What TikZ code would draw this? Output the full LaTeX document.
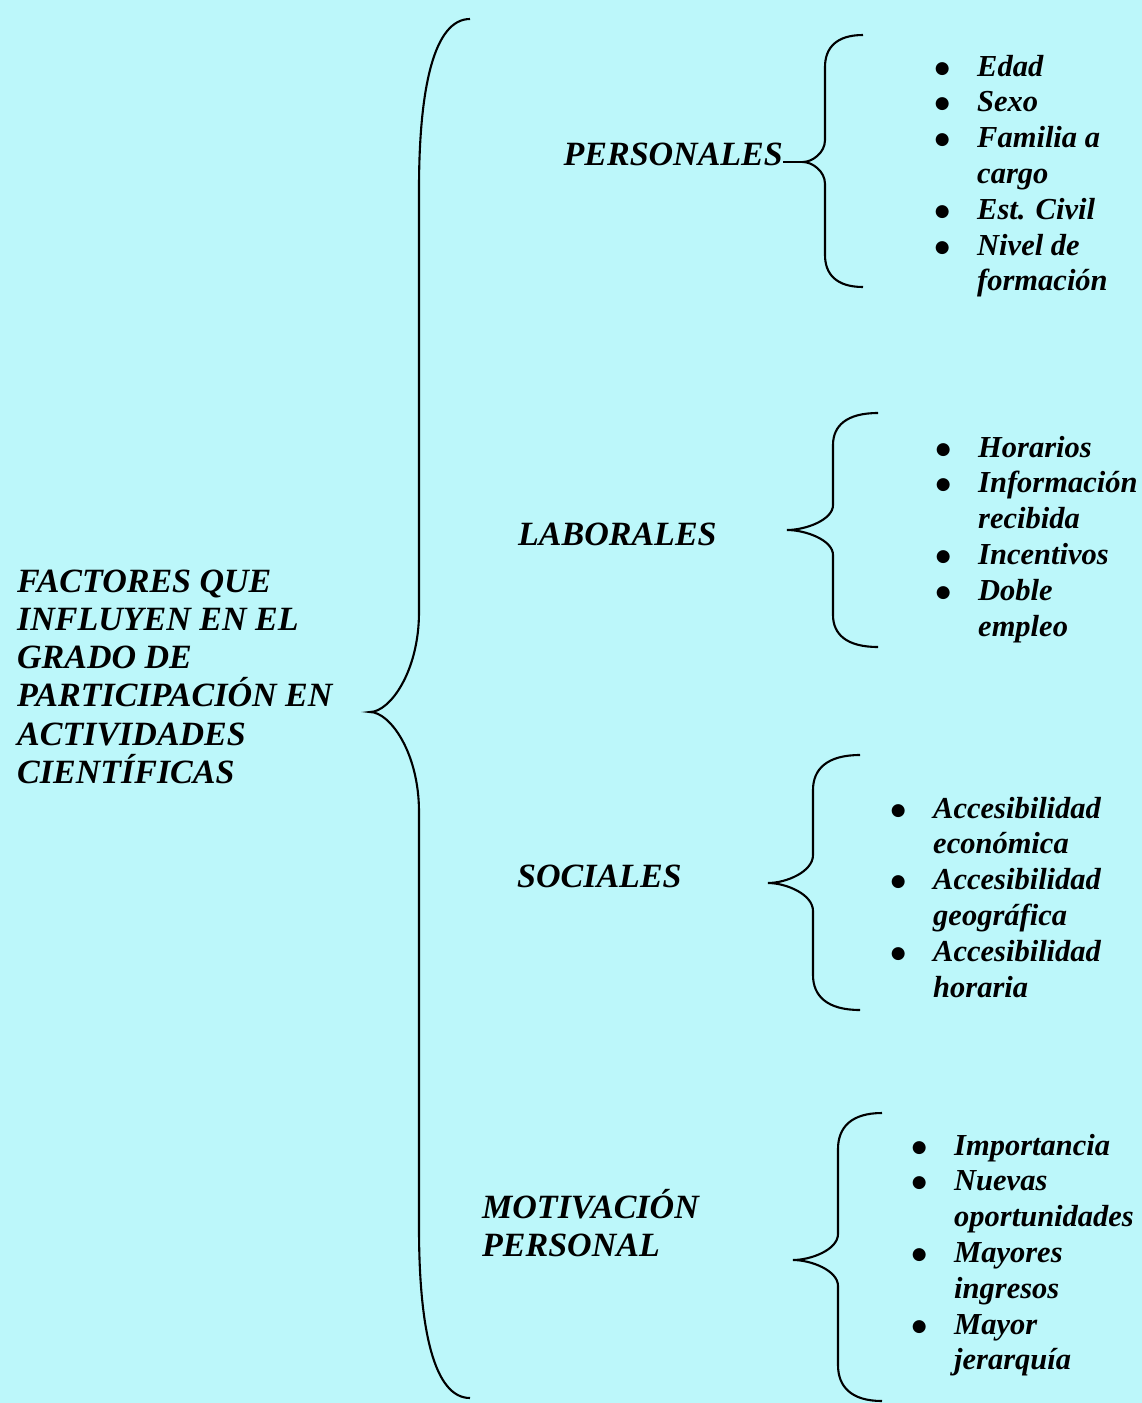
\documentclass[tikz,border=0pt]{standalone}
\usepackage{fontspec}
\setmainfont{Liberation Serif}
\newfontfamily\dotfont{DejaVu Sans}
\definecolor{paper}{RGB}{188,247,250}
\tikzstyle{factor} = [inner sep=0pt, font=\fontsize{34}{38.3}\selectfont\bfseries\itshape]
\tikzstyle{itemlist} = [inner sep=0pt, font=\fontsize{30.5}{35.8}\selectfont\bfseries\itshape]
\tikzstyle{brace} = [draw, line width=2.1pt]

\newcommand{\bul}{\makebox[0pt]{\raisebox{3pt}{\dotfont\fontsize{17}{17}\selectfont ●}}\hspace{35pt}}
\newcommand{\nobul}{\hspace{35pt}}
% end x, spine x, tip x, top y, tip y, bottom y, hook, nose
\newcommand{\curly}[8]{%
  \draw[brace] (#1,#4) .. controls ({#2+0.3*(#1-#2)},#4) and (#2,{#4+0.4*#7}) .. (#2,{#4+#7})
    -- (#2,{#5-#8}) .. controls (#2,{#5-0.4*#8}) and ({#3+0.4*(#2-#3)},#5) .. (#3,#5)
    .. controls ({#3+0.4*(#2-#3)},#5) and (#2,{#5+0.4*#8}) .. (#2,{#5+#8})
    -- (#2,{#6-#7}) .. controls (#2,{#6-0.4*#7}) and ({#2+0.3*(#1-#2)},#6) .. (#1,#6);}

\begin{document}
\begin{tikzpicture}[x=1pt,y=-1pt]

   \useasboundingbox (0,0) rectangle (1142,1403);
   \fill[paper] (0,0) rectangle (1142,1403);

   \node[factor, anchor=base west] (factores) at (17,592) {\begin{tabular}[t]{@{}l@{}}FACTORES QUE\\ INFLUYEN EN EL\\ GRADO DE\\ \smash{PARTICIPACIÓN EN}\\ ACTIVIDADES\\ \smash{CIENTÍFICAS}\end{tabular}};

   \node[factor, anchor=base east] (personales) at (783,165) {PERSONALES};
   \node[factor, anchor=base west] (laborales) at (518,545) {LABORALES};
   \node[factor, anchor=base west] (sociales) at (517,887) {SOCIALES};
   \node[factor, anchor=base west] (motivacion) at (482,1218) {\begin{tabular}[t]{@{}l@{}}MOTIVACIÓN\\ PERSONAL\end{tabular}};

   % Lists of each factor
   \node[itemlist, anchor=base west] (persItems) at (942,76) {\begin{tabular}[t]{@{}l@{}}\bul Edad\\ \bul Sexo\\ \bul Familia a\\ \nobul cargo\\ \bul Est. Civil\\ \bul Nivel de\\ \nobul formación\end{tabular}};
   \node[itemlist, anchor=base west] (labItems) at (943,457) {\begin{tabular}[t]{@{}l@{}}\bul Horarios\\ \bul Información\\ \nobul recibida\\ \bul Incentivos\\ \bul Doble\\ \nobul empleo\end{tabular}};
   \node[itemlist, anchor=base west] (socItems) at (898,818) {\begin{tabular}[t]{@{}l@{}}\bul Accesibilidad\\ \nobul económica\\ \bul Accesibilidad\\ \nobul geográfica\\ \bul Accesibilidad\\ \nobul horaria\end{tabular}};
   \node[itemlist, anchor=base west] (motItems) at (919,1155) {\begin{tabular}[t]{@{}l@{}}\bul Importancia\\ \bul Nuevas\\ \nobul oportunidades\\ \bul Mayores\\ \nobul ingresos\\ \bul Mayor\\ \nobul jerarquía\end{tabular}};

   %% Braces
   \curly{470}{419}{370}{19}{712}{1398}{170}{100}
   \curly{863}{825}{803}{35}{162}{287}{32}{22}
   \curly{878}{833}{787}{413}{530}{647}{32}{25}
   \curly{860}{813}{768}{755}{883}{1010}{35}{28}
   \curly{882}{838}{793}{1113}{1260}{1401}{36}{26}

   \coordinate (persTip) at (803,162);
   \draw[brace, line width=1.6pt] (personales.east |- persTip) -- (persTip);

\end{tikzpicture}
\end{document}
